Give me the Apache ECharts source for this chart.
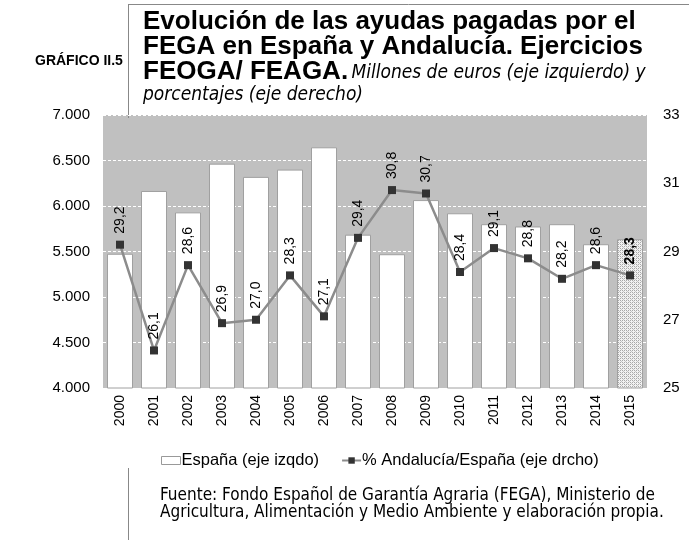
<!DOCTYPE html>
<html>
<head>
<meta charset="utf-8">
<script src="https://cdn.jsdelivr.net/npm/echarts@6/dist/echarts.min.js"></script>
<style>
html,body{margin:0;padding:0;background:#fff;}
#chart{width:689px;height:540px;}
</style>
</head>
<body>
<div id="chart"></div>
<script>
const years = ['2000','2001','2002','2003','2004','2005','2006','2007','2008','2009','2010','2011','2012','2013','2014','2015'];
const espana = [5475, 6165, 5930, 6465, 6320, 6400, 6645, 5685, 5470, 6065, 5920, 5800, 5775, 5800, 5580, 5635];
const pctAndalucia = [29.2, 26.1, 28.6, 26.9, 27.0, 28.3, 27.1, 29.4, 30.8, 30.7, 28.4, 29.1, 28.8, 28.2, 28.6, 28.3];
const leftTicks = [4000, 7000, 500];
const rightTicks = [25, 33, 2];

const SANS = '"Liberation Sans", Arial, sans-serif';
const NARROW = '"DejaVu Sans Condensed", "Liberation Sans Narrow", sans-serif';

// stipple pattern for the last (provisional) bar
const pat = document.createElement('canvas');
pat.width = 4; pat.height = 4;
const pc = pat.getContext('2d');
pc.fillStyle = '#f2f2f2'; pc.fillRect(0,0,4,4);
pc.fillStyle = '#a8a8a8';
pc.fillRect(0,0,1,1); pc.fillRect(2,2,1,1); pc.fillRect(2,0,1,1); pc.fillRect(0,2,1,1);
pc.fillStyle = '#c8c8c8';
pc.fillRect(1,1,1,1); pc.fillRect(3,3,1,1);

const fmtThousand = v => String(v).replace(/\B(?=(\d{3})+(?!\d))/g, '.');
const fmtPct = v => v.toFixed(1).replace('.', ',');

const chart = echarts.init(document.getElementById('chart'), null, {renderer:'canvas'});

chart.setOption({
    backgroundColor: '#fff',
    animation: false,
    grid: { left:103, right:42, top:115, bottom:152, show:true, backgroundColor:'#c0c0c0', borderWidth:0 },
    legend: {
        left: 156, top: 447, itemGap: 22, itemWidth: 19, itemHeight: 8,
        textStyle: { fontFamily: SANS, fontSize: 16.5, color: '#000', padding:[0,0,0,-4] },
        data: [
            { name: 'España (eje izqdo)', icon: 'rect', itemStyle: { color:'#fff', borderColor:'#999', borderWidth:1 } },
            { name: '% Andalucía/España (eje drcho)' }
        ]
    },
    xAxis: {
        type: 'category', data: years,
        axisLine: { show:false }, axisTick: { show:false },
        axisLabel: { rotate: 90, fontFamily: SANS, fontSize: 14, color:'#000', margin: 7 }
    },
    yAxis: [
        {
            type:'value', min:leftTicks[0], max:leftTicks[1], interval:leftTicks[2],
            axisLine:{show:false}, axisTick:{show:false},
            axisLabel:{ formatter: fmtThousand, fontFamily: SANS, fontSize: 15, color:'#000', margin: 13 },
            splitLine:{ lineStyle:{ color:'#fff', type:[3,2], width:1 } }
        },
        {
            type:'value', min:rightTicks[0], max:rightTicks[1], interval:rightTicks[2],
            axisLine:{show:false}, axisTick:{show:false},
            axisLabel:{ fontFamily: SANS, fontSize: 15, color:'#000', margin: 16 },
            splitLine:{ show:false }
        }
    ],
    series: [
        {
            name: 'España (eje izqdo)', type:'bar', yAxisIndex:0, barWidth: 26,
            itemStyle: { color:'#fff', borderColor:'#a0a0a0', borderWidth:1 },
            data: espana.map((v,i) => i === espana.length-1
                ? { value:v, itemStyle:{ color:{ image: pat, repeat:'repeat' }, borderColor:'#a0a0a0' } }
                : v)
        },
        {
            name: '% Andalucía/España (eje drcho)', type:'line', yAxisIndex:1,
            symbol:'rect', symbolSize:8,
            lineStyle:{ color:'#8c8c8c', width:2.5 },
            itemStyle:{ color:'#333' },
            label: {
                show:true, position:'top', rotate:90, align:'left', verticalAlign:'middle', distance:7,
                formatter: p => fmtPct(p.value), fontFamily: SANS, fontSize: 14, color:'#000'
            },
            data: pctAndalucia.map((v,i) => i === pctAndalucia.length-1
                ? { value:v, label:{ fontWeight:'bold' } } : v),
            z: 5
        }
    ],
    graphic: [
        { type:'line', shape:{ x1:128.5, y1:4, x2:128.5, y2:118 }, style:{ stroke:'#888', lineWidth:1 } },
        { type:'line', shape:{ x1:128, y1:4.5, x2:689, y2:4.5 }, style:{ stroke:'#888', lineWidth:1 } },
        { type:'line', shape:{ x1:128.5, y1:468, x2:128.5, y2:540 }, style:{ stroke:'#888', lineWidth:1 } },
        { type:'text', left:35, top:54, style:{ text:'GRÁFICO II.5', font:'bold 14px ' + SANS, fill:'#000' } },
        { type:'text', left:143, top:9, style:{ text:'Evolución de las ayudas pagadas por el', font:'bold 26px ' + SANS, fill:'#000' } },
        { type:'text', left:143, top:34, style:{ text:'FEGA en España y Andalucía. Ejercicios', font:'bold 26px ' + SANS, fill:'#000' } },
        { type:'text', left:143, top:59, style:{
            text:'{b|FEOGA/ FEAGA.} {i|Millones de euros (eje izquierdo) y}',
            rich:{
                b:{ font:'bold 26px ' + SANS, fill:'#000' },
                i:{ font:'italic 19px ' + NARROW, fill:'#000', padding:[3,0,0,0] }
            }
        } },
        { type:'text', left:143, top:86, style:{ text:'porcentajes (eje derecho)', font:'italic 19px ' + NARROW, fill:'#000' } },
        { type:'text', left:160, top:487, style:{
            text:'Fuente: Fondo Español de Garantía Agraria (FEGA), Ministerio de\nAgricultura, Alimentación y Medio Ambiente y elaboración propia.',
            font:'17px ' + NARROW, lineHeight:17, fill:'#000' } }
    ]
});
</script>
</body>
</html>
